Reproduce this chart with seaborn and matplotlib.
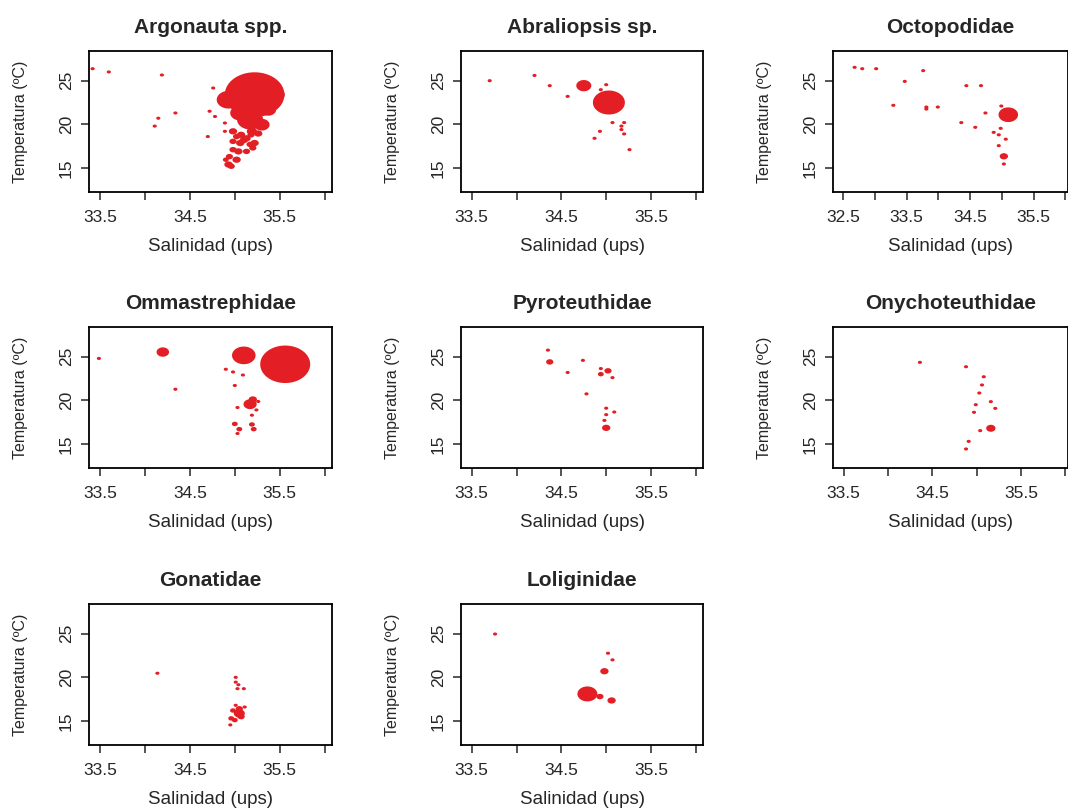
import numpy as np
import pandas as pd
import matplotlib
matplotlib.use("Agg")
import matplotlib.pyplot as plt
import seaborn as sns

# ---- data: salinity (ups), temperature (C) and abundance per family ----
families = ["Argonauta spp.", "Abraliopsis sp.", "Octopodidae",
            "Ommastrephidae", "Pyroteuthidae", "Onychoteuthidae",
            "Gonatidae", "Loliginidae"]

argonauta_sal = [33.42, 33.60, 34.19, 34.11, 34.15, 34.34, 34.76, 34.72, 34.78, 34.70,
                 34.89, 34.89, 35.22, 34.93, 35.46, 35.17, 35.06, 35.30, 35.19, 35.37,
                 34.98, 35.02, 35.07, 35.13, 35.18, 34.98, 35.06, 35.17, 35.22, 34.98,
                 35.04, 35.13, 35.20, 34.94, 35.02, 34.93, 34.96, 34.90, 35.10, 35.26]
argonauta_temp = [26.37, 26.00, 25.65, 19.80, 20.70, 21.30, 24.16, 21.50, 20.90, 18.60,
                  20.15, 19.20, 23.40, 22.82, 23.40, 20.53, 21.30, 19.96, 19.20, 21.68,
                  19.20, 18.60, 18.80, 18.40, 18.80, 18.05, 17.86, 17.70, 17.86, 17.10,
                  16.90, 16.90, 17.30, 16.30, 15.95, 15.40, 15.20, 15.95, 18.20, 18.95]
argonauta_n = [1, 1, 1, 1, 1, 1, 1, 1, 1, 1,
               1, 1, 205, 32, 17, 39, 23, 14, 6, 15,
               4, 3, 4, 4, 3, 3, 4, 3, 4, 3,
               4, 3, 3, 3, 4, 4, 3, 2, 4, 4]

abraliopsis_sal = [33.70, 34.20, 34.37, 34.57, 34.75, 35.00, 34.94, 35.03, 35.07, 35.20,
                   35.17, 35.17, 35.20, 34.93, 34.87, 35.26]
abraliopsis_temp = [25.00, 25.60, 24.43, 23.20, 24.43, 24.54, 23.97, 22.50, 20.20, 20.20,
                    19.80, 19.40, 18.90, 19.20, 18.40, 17.10]
abraliopsis_n = [1, 1, 1, 1, 13, 1, 1, 59, 1, 1, 1, 1, 1, 1, 1, 1]

octopodidae_sal = [32.68, 32.80, 33.02, 33.47, 33.29, 33.76, 33.81, 33.81, 33.99, 34.44,
                   34.67, 34.74, 34.36, 34.58, 34.87, 34.98, 34.95, 35.06, 34.95, 35.10,
                   34.99, 35.03, 35.03]
octopodidae_temp = [26.53, 26.37, 26.37, 24.92, 22.18, 26.15, 21.98, 21.75, 21.98, 24.43,
                    24.43, 21.30, 20.20, 19.66, 19.08, 19.54, 18.80, 18.30, 17.56, 21.10,
                    22.10, 16.34, 15.46]
octopodidae_n = [1, 1, 1, 1, 1, 1, 1, 1, 1, 1,
                 1, 1, 1, 1, 1, 1, 1, 1, 1, 22,
                 1, 4, 1]

ommastrephidae_sal = [33.49, 34.20, 34.34, 35.10, 35.56, 34.90, 34.98, 35.09, 35.00, 35.17,
                      35.20, 35.26, 35.03, 35.24, 35.19, 35.00, 35.05, 35.03, 35.19, 35.21]
ommastrephidae_temp = [24.80, 25.53, 21.27, 25.15, 24.13, 23.56, 23.25, 22.90, 21.70, 19.56,
                       20.10, 19.87, 19.18, 18.90, 18.30, 17.30, 16.70, 16.20, 17.24, 16.70]
ommastrephidae_n = [1, 9, 1, 32, 144, 1, 1, 1, 1, 10,
                    4, 1, 1, 1, 1, 2, 2, 1, 2, 2]

pyroteuthidae_sal = [34.35, 34.37, 34.57, 34.74, 34.94, 34.94, 35.02, 35.07, 34.78, 35.00,
                     35.00, 34.98, 35.09, 35.00]
pyroteuthidae_temp = [25.75, 24.40, 23.19, 24.58, 23.64, 23.00, 23.38, 22.60, 20.74, 19.10,
                      18.36, 17.70, 18.66, 16.85]
pyroteuthidae_n = [1, 3, 1, 1, 1, 2, 3, 1, 1, 1, 1, 1, 1, 4]

onychoteuthidae_sal = [34.36, 34.88, 35.08, 35.06, 35.03, 34.99, 34.97, 35.16, 35.21, 35.16,
                       35.04, 34.91, 34.88]
onychoteuthidae_temp = [24.35, 23.85, 22.70, 21.76, 20.84, 19.50, 18.63, 19.85, 19.08, 16.80,
                        16.53, 15.30, 14.43]
onychoteuthidae_n = [1, 1, 1, 1, 1, 1, 1, 1, 1, 5, 1, 1, 1]

gonatidae_sal = [34.14, 35.01, 35.01, 35.04, 35.03, 35.10, 35.05, 35.01, 35.11, 34.98,
                 34.96, 35.00, 34.95, 35.05, 35.07]
gonatidae_temp = [20.47, 20.00, 19.45, 19.15, 18.70, 18.70, 15.87, 16.80, 16.60, 16.20,
                  15.30, 15.10, 14.55, 16.40, 15.50]
gonatidae_n = [1, 1, 1, 1, 1, 1, 7, 1, 1, 2, 2, 2, 1, 3, 3]

loliginidae_sal = [33.76, 35.02, 35.07, 34.98, 34.79, 34.93, 35.06]
loliginidae_temp = [24.96, 22.76, 22.00, 20.70, 18.10, 17.80, 17.35]
loliginidae_n = [1, 1, 1, 4, 23, 3, 4]

x_ticks = [33.5, 34.0, 34.5, 35.0, 35.5, 36.0]
x_ticklabels = ["33.5", "", "34.5", "", "35.5", ""]
octo_x_ticks = [32.5, 33.0, 33.5, 34.0, 34.5, 35.0, 35.5, 36.0]
octo_x_ticklabels = ["32.5", "", "33.5", "", "34.5", "", "35.5", ""]
y_ticks = [15, 20, 25]

series = [
    (argonauta_sal, argonauta_temp, argonauta_n),
    (abraliopsis_sal, abraliopsis_temp, abraliopsis_n),
    (octopodidae_sal, octopodidae_temp, octopodidae_n),
    (ommastrephidae_sal, ommastrephidae_temp, ommastrephidae_n),
    (pyroteuthidae_sal, pyroteuthidae_temp, pyroteuthidae_n),
    (onychoteuthidae_sal, onychoteuthidae_temp, onychoteuthidae_n),
    (gonatidae_sal, gonatidae_temp, gonatidae_n),
    (loliginidae_sal, loliginidae_temp, loliginidae_n),
]
frames = []
for fam, (sal, temp, n) in zip(families, series):
    frames.append(pd.DataFrame({"familia": fam, "salinidad": sal, "temperatura": temp, "n": n}))
df = pd.concat(frames, ignore_index=True)

# ---- style ----
RED = "#E31E24"
S_UNIT = 9  # marker area (pt^2) for one individual
n_max = df["n"].max()

sns.set_style("ticks")
plt.rcParams["font.family"] = ["Liberation Sans", "DejaVu Sans"]

# slightly flattened circle, the original image is squeezed vertically
theta = np.linspace(0, 2 * np.pi, 64)
ellipse = np.column_stack([np.cos(theta), 0.75 * np.sin(theta)])

col_left = [89 / 1068, 461 / 1068, 833 / 1068]
col_width = [243 / 1068, 242 / 1068, 235 / 1068]
row_bottom = [1 - 192 / 810, 1 - 468 / 810, 1 - 745 / 810]
height = 141 / 810

fig = plt.figure(figsize=(10.68, 8.10), dpi=100)

for i, fam in enumerate(families):
    r, c = divmod(i, 3)
    ax = fig.add_axes([col_left[c], row_bottom[r], col_width[c], height])
    sub = df[df["familia"] == fam]
    sns.scatterplot(data=sub, x="salinidad", y="temperatura", size="n",
                    sizes=(S_UNIT, S_UNIT * n_max), size_norm=(1, n_max),
                    color=RED, marker=ellipse, edgecolor="none", linewidth=0,
                    alpha=1, legend=False, ax=ax)

    if fam == "Octopodidae":
        ax.set_xlim(32.34, 36.04)
        ax.set_xticks(octo_x_ticks)
        ax.set_xticklabels(octo_x_ticklabels)
    else:
        ax.set_xlim(33.38, 36.08 if c < 2 else 36.03)
        ax.set_xticks(x_ticks)
        ax.set_xticklabels(x_ticklabels)
    ax.set_ylim(12.25, 28.4)
    ax.set_yticks(y_ticks)
    ax.set_yticklabels([str(v) for v in y_ticks], rotation=90, va="center")

    ax.set_title(fam, fontsize=15, fontweight="bold", pad=13)
    ax.set_xlabel("Salinidad (ups)", fontsize=13.5, labelpad=9)
    ax.set_ylabel("Temperatura (ºC)", fontsize=11.5, labelpad=22)
    ax.tick_params(axis="x", direction="out", length=6, width=1.1, labelsize=12.5, pad=7)
    ax.tick_params(axis="y", direction="out", length=6, width=1.1, labelsize=12.5, pad=5)
    for sp in ax.spines.values():
        sp.set_visible(True)
        sp.set_linewidth(1.3)
        sp.set_color("black")

fig.savefig("out.png", dpi=100)
